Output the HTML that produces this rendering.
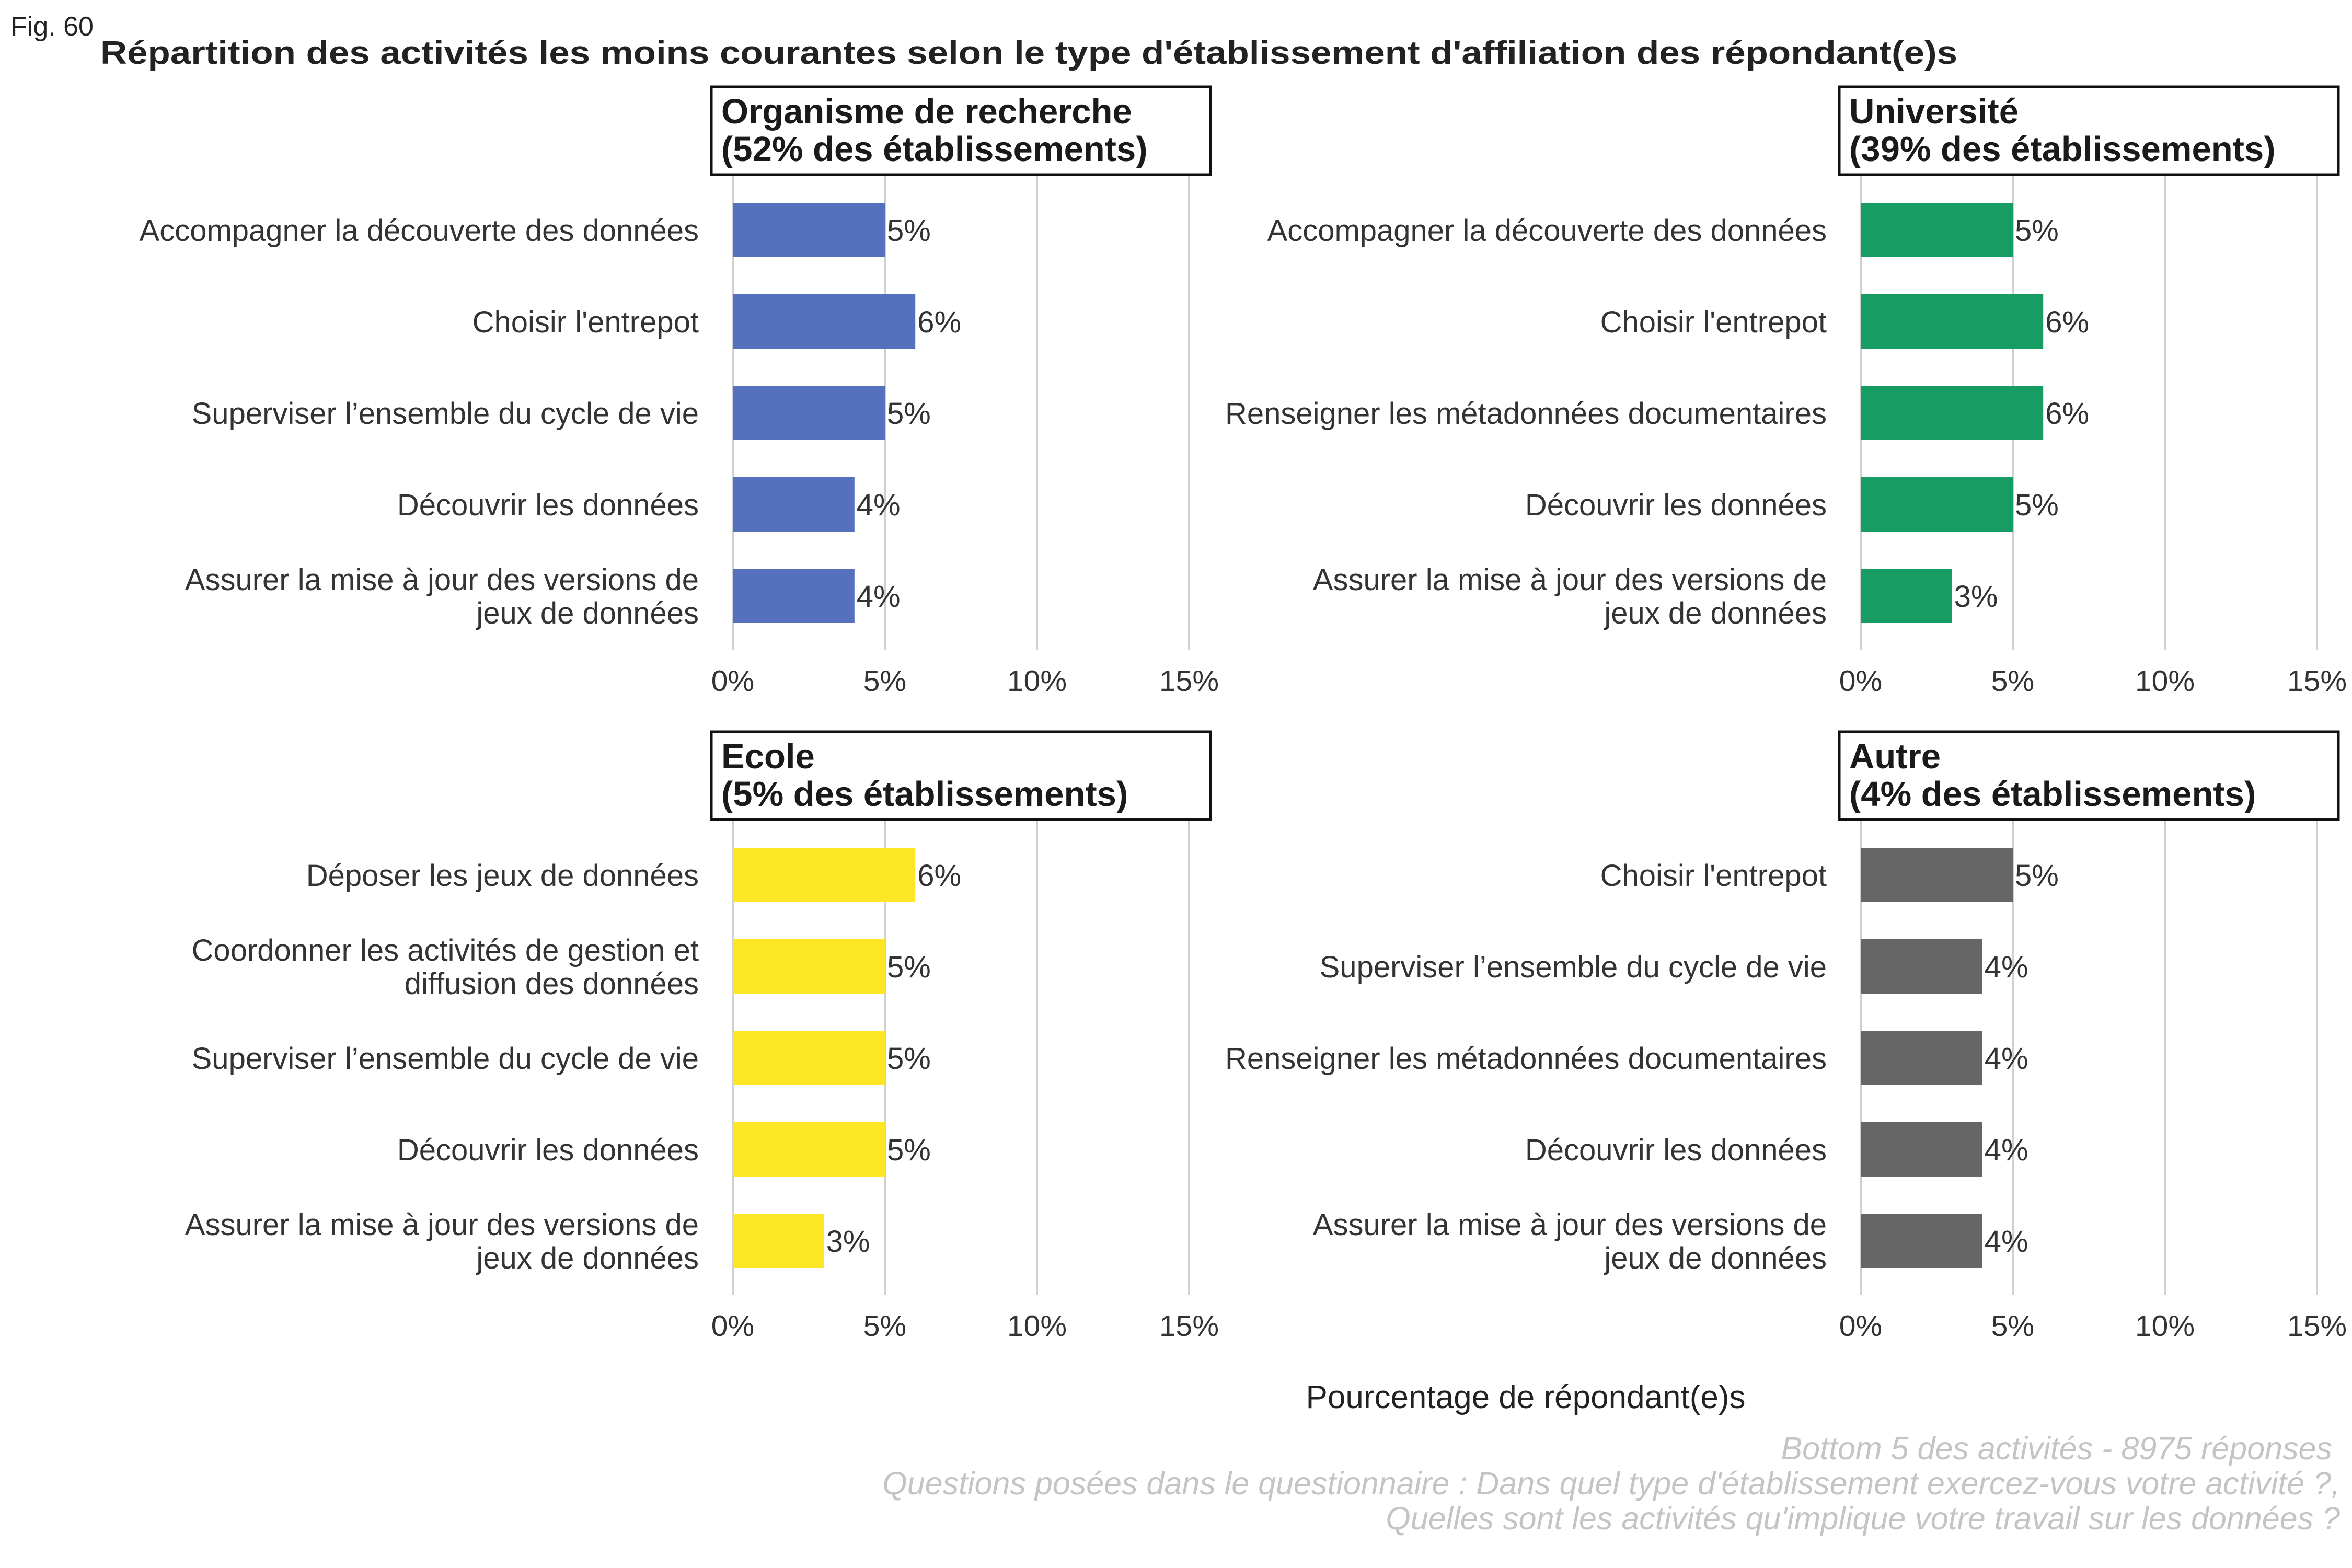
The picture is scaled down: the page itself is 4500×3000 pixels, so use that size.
<!DOCTYPE html>
<html><head><meta charset="utf-8"><style>
html,body{margin:0;padding:0;background:#fff}
svg{display:block}
text{font-family:"Liberation Sans",sans-serif}
</style></head><body>
<svg id="chart" width="4500" height="3000" viewBox="0 0 4500 3000" xmlns="http://www.w3.org/2000/svg">
<text x="20" y="68" font-size="52" fill="#222">Fig. 60</text>
<text x="192" y="122" font-size="62" font-weight="bold" fill="#222" textLength="3553" lengthAdjust="spacingAndGlyphs">Répartition des activités les moins courantes selon le type d'établissement d'affiliation des répondant(e)s</text>
<text x="2919" y="2694" font-size="62" fill="#222" text-anchor="middle">Pourcentage de répondant(e)s</text>
<g font-style="italic" font-size="61" fill="#c4c4c4" text-anchor="end">
<text x="4462" y="2792">Bottom 5 des activités - 8975 réponses</text>
<text x="4477" y="2859">Questions posées dans le questionnaire : Dans quel type d'établissement exercez-vous votre activité ?,</text>
<text x="4477" y="2926">Quelles sont les activités qu'implique votre travail sur les données ?</text>
</g>
</svg>
<script>
const panelTitles = ["Organisme de recherche", "Université", "Ecole", "Autre"];
const panelShares = ["(52% des établissements)", "(39% des établissements)", "(5% des établissements)", "(4% des établissements)"];
const categoriesP1 = [["Accompagner la découverte des données"],["Choisir l'entrepot"],["Superviser l’ensemble du cycle de vie"],["Découvrir les données"],["Assurer la mise à jour des versions de","jeux de données"]];
const categoriesP2 = [["Accompagner la découverte des données"],["Choisir l'entrepot"],["Renseigner les métadonnées documentaires"],["Découvrir les données"],["Assurer la mise à jour des versions de","jeux de données"]];
const categoriesP3 = [["Déposer les jeux de données"],["Coordonner les activités de gestion et","diffusion des données"],["Superviser l’ensemble du cycle de vie"],["Découvrir les données"],["Assurer la mise à jour des versions de","jeux de données"]];
const categoriesP4 = [["Choisir l'entrepot"],["Superviser l’ensemble du cycle de vie"],["Renseigner les métadonnées documentaires"],["Découvrir les données"],["Assurer la mise à jour des versions de","jeux de données"]];
const valuesP1 = [5, 6, 5, 4, 4];
const valuesP2 = [5, 6, 6, 5, 3];
const valuesP3 = [6, 5, 5, 5, 3];
const valuesP4 = [5, 4, 4, 4, 4];
const tickValues = [0, 5, 10, 15];
const tickLabels = ["0%", "5%", "10%", "15%"];

const NS = "http://www.w3.org/2000/svg";
const svg = document.getElementById("chart");
const colors = ["#5571BE", "#179C63", "#FDE725", "#666666"];
const panels = [
  {x0:1402, top:166, cats:categoriesP1, vals:valuesP1},
  {x0:3560, top:166, cats:categoriesP2, vals:valuesP2},
  {x0:1402, top:1400, cats:categoriesP3, vals:valuesP3},
  {x0:3560, top:1400, cats:categoriesP4, vals:valuesP4}
];
const pxPerPct = 58.2;
function mk(tag, attrs, parent){const e=document.createElementNS(NS,tag);for(const k in attrs)e.setAttribute(k,attrs[k]);(parent||svg).appendChild(e);return e;}

panels.forEach((p, pi) => {
  const g = mk("g", {});
  
  
  const xs = v => p.x0 + v * pxPerPct;
  const stripBottom = p.top + 168;
  const gridBottom = stripBottom + 910;
  const yCenter = i => stripBottom + 106 + i * 175;
  tickValues.forEach((t, ti) => {
    const gl = mk("line", {x1:xs(t), x2:xs(t), y1:stripBottom, y2:gridBottom, stroke:"#d0d0d0", "stroke-width":4}, g);
    
    
    const tl = mk("text", {x:xs(t), y:gridBottom+78, "font-size":57, fill:"#333", "text-anchor":"middle"}, g);
    tl.textContent = tickLabels[ti];
    
    
  });
  const box = mk("rect", {x:p.x0-41, y:p.top, width:955, height:168, fill:"#fff", stroke:"#111", "stroke-width":5}, g);
  
  
  const st1 = mk("text", {x:p.x0-22, y:p.top+70, "font-size":67, "font-weight":"bold", fill:"#1a1a1a"}, g);
  st1.textContent = panelTitles[pi];
  
  
  const st2 = mk("text", {x:p.x0-22, y:p.top+142, "font-size":67, "font-weight":"bold", fill:"#1a1a1a"}, g);
  st2.textContent = panelShares[pi];
  
  
  p.vals.forEach((v, i) => {
    const yc = yCenter(i);
    const bar = mk("rect", {x:xs(0), y:yc-52, width:xs(v)-xs(0), height:104, fill:colors[pi]}, g);
    
    
    const vl = mk("text", {x:xs(v)+4, y:yc+21, "font-size":58, fill:"#333"}, g);
    vl.textContent = v + "%";
    
    
    const lines = p.cats[i];
    lines.forEach((ln, li) => {
      const off = lines.length === 1 ? 21 : (li === 0 ? -11 : 53);
      const cl = mk("text", {x:p.x0-65, y:yc+off, "font-size":58, fill:"#333", "text-anchor":"end"}, g);
      cl.textContent = ln;
      
      
    });
  });
});
</script>
</body></html>
